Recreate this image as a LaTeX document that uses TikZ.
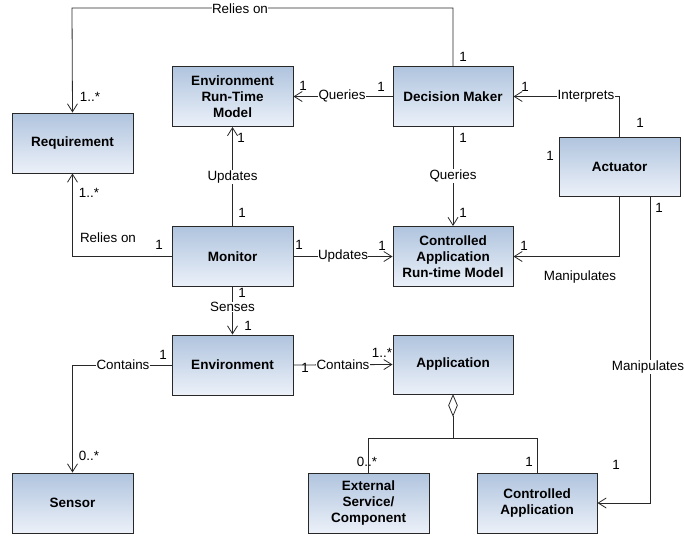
\documentclass[tikz,border=0pt]{standalone}
\usepackage{fontspec}
\setmainfont{Liberation Sans}
\usetikzlibrary{arrows.meta,shapes.geometric}
\definecolor{boxtop}{RGB}{176,196,222}
\definecolor{boxbot}{RGB}{236,241,249}
\definecolor{edgec}{RGB}{40,40,40}
\begin{document}
\begin{tikzpicture}[x=1pt,y=-1pt,
  cls/.style={draw=edgec, line width=1pt, top color=boxtop, bottom color=boxbot,
    minimum width=121pt, minimum height=60pt, inner sep=0pt, align=center,
    font=\bfseries\fontsize{13.5}{16}\selectfont},
  ed/.style={draw=edgec, line width=0.8pt},
  nav/.style={ed, -{Straight Barb[length=8pt,width=10pt,line width=0.8pt]}},
  lbl/.style={font=\fontsize{13.4}{15}\selectfont, inner sep=0.5pt},
  cut/.style={lbl, fill=white},
  mul/.style={font=\fontsize{13.4}{15}\selectfont, inner sep=0pt}
]
\useasboundingbox (0,0) rectangle (684,536);

% classes
\node[cls] (req) at (72.5,143) {Requirement};
\node[cls] (ertm) at (232.5,96.5) {Environment\\Run-Time\\Model};
\node[cls, minimum width=120pt] (dm) at (453,96.5) {Decision Maker};
\node[cls, minimum height=59pt] (act) at (619.5,166.5) {Actuator};
\node[cls] (mon) at (232.5,256.5) {Monitor};
\node[cls, minimum width=120pt] (carm) at (453,256.5) {Controlled\\Application\\Run-time Model};
\node[cls] (env) at (232.5,365) {Environment};
\node[cls, minimum width=120pt, minimum height=59pt] (app) at (453,364.5) {Application};
\node[cls] (sen) at (72.5,503) {Sensor};
\node[cls] (ext) at (368.5,503) {External\\Service/\\Component};
\node[cls, minimum width=120pt] (ca) at (537,503) {Controlled\\Application};

% routing points
\coordinate (rtop) at (72,8);
\coordinate (m2) at (650,196);
\coordinate (agg) at (453,438);

% Decision Maker relies on Requirement
\draw[nav] (dm.north) |- (rtop) -- (req.north);
\node[cut] (l1) at (240,9) {Relies on};
\node[mul] (m1a) at (463,57) {1};
\node[mul] (m1b) at (90,97) {1..*};

% Decision Maker queries Environment Run-Time Model
\draw[nav] (dm.west) -- (ertm.east);
\node[cut] (l2) at (342,96) {Queries};
\node[mul] (m2a) at (381,87) {1};
\node[mul] (m2b) at (303,86) {1};

% Actuator interprets Decision Maker
\draw[nav] (act.north) |- (dm.east);
\node[cut] (l3) at (586,96) {Interprets};
\node[mul] (m3a) at (640,123) {1};
\node[mul] (m3b) at (525,87) {1};
\node[mul] (m3c) at (550,156) {1};

% Decision Maker queries Controlled Application Run-time Model
\draw[nav] (dm.south) -- (carm.north);
\node[cut] (l4) at (453,176) {Queries};
\node[mul] (m4a) at (463,138) {1};
\node[mul] (m4b) at (463,213) {1};

% Actuator manipulates Controlled Application Run-time Model
\draw[nav] (act.south) |- (carm.east);
\node[lbl] (l5) at (580,277) {Manipulates};
\node[mul] (m5a) at (524,246) {1};

% Actuator manipulates Controlled Application
\draw[nav] (m2) |- (ca.east);
\node[cut] (l6) at (648,367) {Manipulates};
\node[mul] (m6a) at (659,208) {1};
\node[mul] (m6b) at (616,465) {1};

% Monitor updates Environment Run-Time Model
\draw[nav] (mon.north) -- (ertm.south);
\node[cut] (l7) at (232.5,177) {Updates};
\node[mul] (m7a) at (242,213) {1};
\node[mul] (m7b) at (241,138) {1};

% Monitor relies on Requirement
\draw[nav] (mon.west) -| (req.south);
\node[lbl] (l8) at (108,238) {Relies on};
\node[mul] (m8a) at (159,245) {1};
\node[mul] (m8b) at (89,193) {1..*};

% Monitor updates Controlled Application Run-time Model
\draw[nav] (mon.east) -- (carm.west);
\node[cut] (l9) at (343,256) {Updates};
\node[mul] (m9a) at (299,245) {1};
\node[mul] (m9b) at (382,246) {1};

% Monitor senses Environment
\draw[nav] (mon.south) -- (env.north);
\node[cut] (l10) at (232.5,307) {Senses};
\node[mul, fill=white, inner sep=1pt] (m10a) at (242,293) {1};
\node[mul, fill=white, inner sep=1pt] (m10b) at (248,326) {1};

% Environment contains Sensor
\draw[nav] (env.west) -| (sen.north);
\node[cut] (l11) at (123,365) {Contains};
\node[mul] (m11a) at (163,355) {1};
\node[mul] (m11b) at (89,456) {0..*};

% Environment contains Application
\draw[nav] (env.east) -- (app.west);
\node[cut] (l12) at (343,365) {Contains};
\node[mul] (m12a) at (305,368) {1};
\node[mul] (m12b) at (382,353) {1..*};

% Application aggregates its parts
\node[diamond, draw=edgec, line width=0.8pt, fill=white, inner sep=0pt,
  minimum width=9pt, minimum height=21pt, anchor=north] (dia) at (app.south) {};
\draw[ed] (dia.south) -- (agg);
\draw[ed] (agg) -| (ext.north);
\draw[ed] (agg) -| (ca.north);
\node[mul] (m13a) at (367,462) {0..*};
\node[mul] (m13b) at (529,462) {1};
\end{tikzpicture}
\end{document}
